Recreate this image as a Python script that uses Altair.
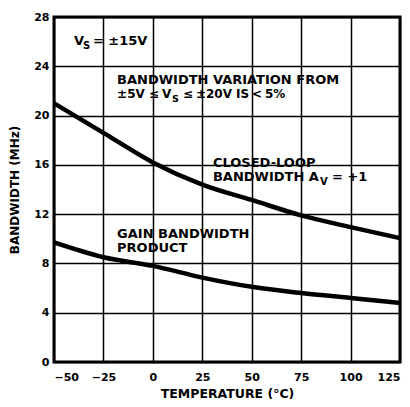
import altair as alt
import pandas as pd

# ---- data ----
temps = [-50, -25, 0, 25, 50, 75, 100, 125]
closed_loop_bw = [21.0, 18.6, 16.2, 14.4, 13.15, 11.9, 10.95, 10.05]
gain_bw_product = [9.7, 8.5, 7.8, 6.85, 6.1, 5.6, 5.2, 4.8]

x_ticks = [-50, -25, 0, 25, 50, 75, 100, 125]
y_ticks = [0, 4, 8, 12, 16, 20, 24, 28]

# annotation pieces: text, x (temperature), y (MHz), font size
ann_text = ["V", "S", "= ±15V",
            "BANDWIDTH VARIATION FROM",
            "±5V", "≤", "V", "S", "≤", "±20V", "IS", "<", "5%",
            "CLOSED-LOOP",
            "BANDWIDTH A", "V", "= +1",
            "GAIN BANDWIDTH", "PRODUCT"]
ann_x = [-39.9, -35.3, -30.3,
         -18.1,
         -18.1, -2.0, 4.6, 9.7, 15.2, 21.8, 42.1, 50.2, 56.7,
         30.4,
         30.4, 84.5, 90.6,
         -18.1, -18.1]
ann_y = [25.73, 25.41, 25.73,
         22.60,
         21.43, 21.43, 21.43, 21.11, 21.43, 21.43, 21.43, 21.43, 21.43,
         15.84,
         14.71, 14.38, 14.71,
         10.09, 8.95]
ann_size = [13, 10, 13,
            13,
            12, 12, 12, 9.5, 12, 12, 12, 12, 12,
            13,
            13, 10, 13,
            13, 13]

FONT = "DejaVu Sans"

curves = pd.DataFrame({
    "T": temps * 2,
    "BW": closed_loop_bw + gain_bw_product,
    "curve": ["Closed-loop"] * len(temps) + ["GBW"] * len(temps),
})
ann = pd.DataFrame({"t": ann_text, "x": ann_x, "y": ann_y, "s": ann_size})

xscale = alt.Scale(domain=[-50, 125], nice=False, zero=False)
yscale = alt.Scale(domain=[0, 28], nice=False, zero=False)

lines = alt.Chart(curves).mark_line(
    color="black", strokeWidth=4.5, interpolate="monotone", strokeCap="butt"
).encode(
    x=alt.X("T:Q", scale=xscale,
            axis=alt.Axis(values=x_ticks, title="TEMPERATURE (°C)", titleY=31,
                          titleBaseline="middle")),
    y=alt.Y("BW:Q", scale=yscale,
            axis=alt.Axis(values=y_ticks, title="BANDWIDTH (MHz)", titleX=-36,
                          titleBaseline="alphabetic", titleAngle=-90)),
    detail="curve:N",
)

texts = alt.Chart(ann).mark_text(
    align="left", baseline="alphabetic", font=FONT, fontWeight="bold", color="black"
).encode(
    x=alt.X("x:Q", scale=xscale),
    y=alt.Y("y:Q", scale=yscale),
    text="t:N",
    size=alt.Size("s:Q", scale=None, legend=None),
)

chart = alt.layer(lines, texts).properties(
    width=346, height=345,
    autosize=alt.AutoSizeParams(type="none"),
    padding={"left": 46, "top": 9, "right": 2, "bottom": 37},
).configure_view(
    stroke="black", strokeWidth=3
).configure_axis(
    grid=True, gridColor="black", gridWidth=1.5, gridOpacity=1,
    domain=False, ticks=False,
    labelFont=FONT, labelFontWeight="bold", labelFontSize=11, labelColor="black",
    titleFont=FONT, titleFontWeight="bold", titleFontSize=12, titleColor="black",
).configure_axisX(
    labelPadding=9, titleFontSize=12.5
).configure_axisY(
    labelPadding=5, titleFontSize=12
)

chart.save("out.html", embed_options={"renderer": "svg", "actions": False})
